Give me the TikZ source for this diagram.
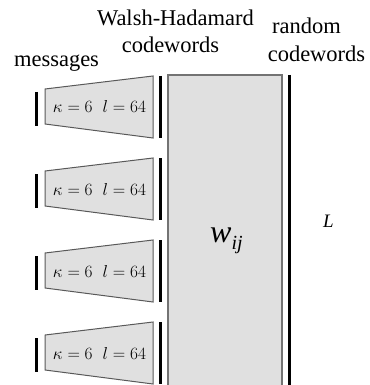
\documentclass[tikz,border=0pt]{standalone}
\usepackage{fontspec}
\setmainfont{Liberation Serif}
\usetikzlibrary{positioning}

\begin{document}
\begin{tikzpicture}
  [x=1pt,y=-1pt,
   trap/.style={draw=black!65,fill=black!12,line width=1pt},
   bar/.style={black,line width=3pt},
   head/.style={font=\fontsize{22.5}{24}\selectfont,inner sep=0pt,anchor=base},
   param/.style={font=\fontsize{17.5}{17.5}\selectfont,inner sep=0pt}]
  \useasboundingbox (0,0) rectangle (369,385);

  \node[head] (msg) at (56.5,66.5) {messages};
  \node[head] (wh) at (175.5,26) {Walsh-Hadamard};
  \node[head] (whcw) at (170.5,53) {codewords};
  \node[head] (rnd) at (306.5,34) {random};
  \node[head] (rndcw) at (316.5,62) {codewords};

  \filldraw[trap] (45,89) -- (153,76) -- (153,138) -- (45,124) -- cycle;
  \filldraw[trap] (45,171) -- (153,158) -- (153,220) -- (45,206) -- cycle;
  \filldraw[trap] (45,253) -- (153,240) -- (153,302) -- (45,288) -- cycle;
  \filldraw[trap] (45,335) -- (153,322) -- (153,384) -- (45,370) -- cycle;

  \node[param] (m1) at (99.5,107) {$\kappa=6\hspace{10pt}l=64$};
  \node[param] (m2) at (99.5,189) {$\kappa=6\hspace{10pt}l=64$};
  \node[param] (m3) at (99.5,271) {$\kappa=6\hspace{10pt}l=64$};
  \node[param] (m4) at (99.5,353) {$\kappa=6\hspace{10pt}l=64$};

  \draw[bar] (36,92) -- (36,126);
  \draw[bar] (36,174) -- (36,208);
  \draw[bar] (36,256) -- (36,290);
  \draw[bar] (36,338) -- (36,372);

  \draw[bar] (160,76) -- (160,138);
  \draw[bar] (160,158) -- (160,220);
  \draw[bar] (160,240) -- (160,302);
  \draw[bar] (160,322) -- (160,384);

  \fill[black!12] (168,75) rectangle (282,385);
  \draw[black!55,line width=1.5pt] (168,385) -- (168,75) -- (282,75) -- (282,385);
  \draw[bar] (289,75) -- (289,385);

  \node[anchor=base west,inner sep=0pt] (wij) at (210,242)
    {\fontsize{32}{32}\selectfont\itshape w\raisebox{-7pt}{\fontsize{20}{20}\selectfont ij}};
  \node[anchor=base west,inner sep=0pt,font=\fontsize{19}{19}\selectfont\itshape] (len) at (323,227) {L};
\end{tikzpicture}
\end{document}
